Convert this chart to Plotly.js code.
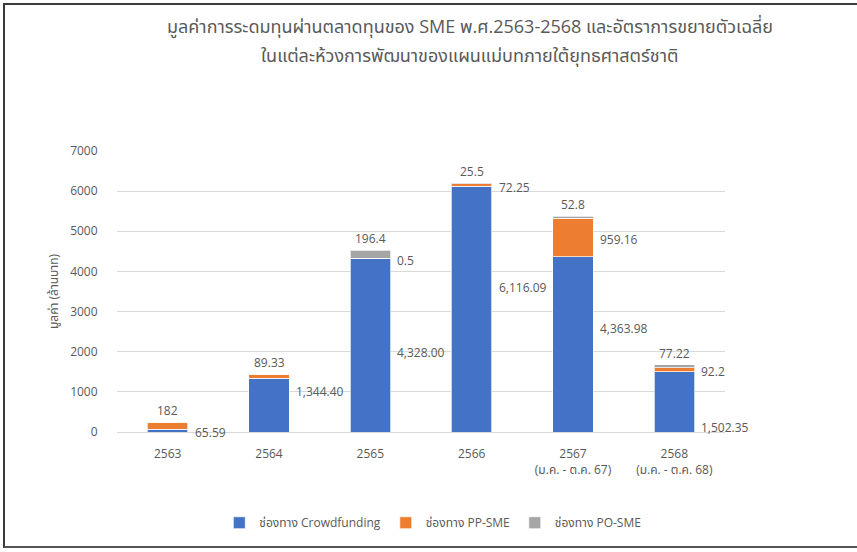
<!DOCTYPE html>
<html>
<head>
<meta charset="utf-8">
<script src="https://cdn.plot.ly/plotly-3.0.1.min.js"></script>
<style>
  html, body { margin: 0; padding: 0; background: #fff; }
  #wrap { position: relative; width: 857px; height: 552px; }
  #chart { width: 857px; height: 552px; }
  #frame { position: absolute; left: 3px; top: 3px; width: 854px; height: 545px;
           border-left: 2px solid #3a3a3a; border-top: 2px solid #3a3a3a; border-bottom: 2px solid #555;
           box-sizing: border-box; pointer-events: none; }
</style>
</head>
<body>
<div id="wrap">
  <div id="chart"></div>
  <div id="frame"></div>
</div>
<script>
// ---- data ----
const categories = ['2563', '2564', '2565', '2566', '2567<br>(ม.ค. - ต.ค. 67)', '2568<br>(ม.ค. - ต.ค. 68)'];
const crowdfunding = [65.59, 1344.40, 4328.00, 6116.09, 4363.98, 1502.35];
const ppSme = [182, 89.33, 0.5, 72.25, 959.16, 92.2];
const poSme = [0, 0, 196.4, 25.5, 52.8, 77.22];
const seriesNames = ['ช่องทาง Crowdfunding', 'ช่องทาง PP-SME', 'ช่องทาง PO-SME'];
const yTicks = [0, 1000, 2000, 3000, 4000, 5000, 6000, 7000];
const titleLine1 = 'มูลค่าการระดมทุนผ่านตลาดทุนของ SME พ.ศ.2563-2568 และอัตราการขยายตัวเฉลี่ย';
const titleLine2 = 'ในแต่ละห้วงการพัฒนาของแผนแม่บทภายใต้ยุทธศาสตร์ชาติ';
const yTitle = 'มูลค่า (ล้านบาท)';

// ---- label placement (layout only): where the Crowdfunding label sits, as a share of its bar ----
const cfLabelAt = [0, 0.757, 0.46, 0.587, 0.588, 0.078];

const colors = ['#4472C4', '#ED7D31', '#A5A5A5'];
const txtColor = '#595959';
const FONT = "'Open Sans', 'Noto Sans', 'Noto Sans Thai', Tahoma, sans-serif";

const fmtCF = v => v.toLocaleString('en-US', {minimumFractionDigits: 2, maximumFractionDigits: 2});
const fmtRaw = v => String(v);
const idx = categories.map((c, i) => i);

const traces = [crowdfunding, ppSme, poSme].map((vals, i) => ({
  type: 'bar',
  name: seriesNames[i],
  x: idx,
  y: vals,
  marker: {color: colors[i], line: {color: 'rgba(255,255,255,0.7)', width: 1}},
  hoverinfo: 'skip'
}));

const ann = [];
const lblFont = {family: FONT, size: 12, color: txtColor};
idx.forEach(i => {
  const total = crowdfunding[i] + ppSme[i] + poSme[i];
  const topVal = poSme[i] > 0 ? poSme[i] : ppSme[i];
  ann.push({x: i, y: total, xref: 'x', yref: 'y', text: fmtRaw(topVal), showarrow: false,
            xanchor: 'center', yanchor: 'bottom', yshift: 1, font: lblFont});
  if (poSme[i] > 0) {
    ann.push({x: i, y: crowdfunding[i] + ppSme[i] / 2, xref: 'x', yref: 'y', text: fmtRaw(ppSme[i]),
              showarrow: false, xanchor: 'left', yanchor: 'middle', xshift: 25, yshift: -2, font: lblFont});
  }
  ann.push({x: i, y: crowdfunding[i] * cfLabelAt[i], xref: 'x', yref: 'y', text: fmtCF(crowdfunding[i]),
            showarrow: false, xanchor: 'left', yanchor: 'middle', xshift: 25, font: lblFont});
});
// second title line
ann.push({xref: 'paper', yref: 'paper', x: (470 - 117) / 608, y: 1 + (151 - 55) / 281, text: titleLine2,
          showarrow: false, xanchor: 'center', yanchor: 'middle', font: {family: FONT, size: 18, color: txtColor}});

const layout = {
  width: 857, height: 552,
  paper_bgcolor: '#ffffff', plot_bgcolor: '#ffffff',
  font: {family: FONT, size: 12, color: txtColor},
  margin: {l: 117, r: 132, t: 151, b: 120},
  barmode: 'stack',
  bargap: 0.6,
  title: {text: titleLine1, font: {family: FONT, size: 18, color: txtColor},
          xref: 'container', x: 470 / 857, xanchor: 'center', yref: 'container', y: 1 - 27 / 552, yanchor: 'middle'},
  xaxis: {type: 'linear', range: [-0.5, categories.length - 0.5], tickvals: idx, ticktext: categories,
          showgrid: false, zeroline: false, showline: false, ticks: 'outside', ticklen: 11, tickcolor: 'rgba(0,0,0,0)',
          tickfont: {family: FONT, size: 12, color: txtColor}, fixedrange: true},
  yaxis: {range: [0, 7000], tickvals: yTicks, ticktext: yTicks.map(String), showgrid: true,
          gridcolor: '#d9d9d9', gridwidth: 1, zeroline: true, zerolinecolor: '#d9d9d9', zerolinewidth: 1,
          showline: false, ticks: 'outside', ticklen: 16, tickcolor: 'rgba(0,0,0,0)',
          tickfont: {family: FONT, size: 12, color: txtColor},
          title: {text: yTitle, font: {family: FONT, size: 12, color: txtColor}, standoff: 8}, fixedrange: true},
  legend: {orientation: 'h', xref: 'container', x: 0.505, xanchor: 'center', yref: 'container', y: 0.053, yanchor: 'middle',
           font: {family: FONT, size: 12, color: txtColor}, itemwidth: 30, traceorder: 'normal'},
  annotations: ann,
  showlegend: true
};

Plotly.newPlot('chart', traces, layout, {displayModeBar: false, staticPlot: true});
</script>
</body>
</html>
